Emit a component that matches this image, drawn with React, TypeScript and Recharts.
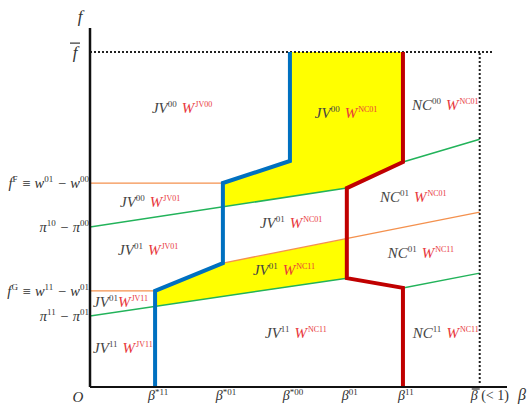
import React from 'react';
import { ComposedChart, Line, Area, Scatter, XAxis, YAxis } from 'recharts';

// Boundary lines in (beta, f) space, beta-bar = 1, f-bar = 1
const blueBoundary = [
  { b: 0.167, f: 0 }, { b: 0.167, f: 0.287 }, { b: 0.341, f: 0.370 },
  { b: 0.341, f: 0.609 }, { b: 0.513, f: 0.675 }, { b: 0.513, f: 1 },
];
const redBoundary = [
  { b: 0.803, f: 1 }, { b: 0.803, f: 0.672 }, { b: 0.659, f: 0.594 },
  { b: 0.659, f: 0.325 }, { b: 0.803, f: 0.296 }, { b: 0.803, f: 0 },
];
const greenUpper = [{ b: 0, f: 0.478 }, { b: 0.659, f: 0.594 }, { b: 0.803, f: 0.672 }, { b: 1, f: 0.740 }];
const greenLower = [{ b: 0, f: 0.212 }, { b: 0.659, f: 0.325 }, { b: 0.803, f: 0.296 }, { b: 1, f: 0.340 }];
const orangeFF = [{ b: 0, f: 0.609 }, { b: 0.341, f: 0.609 }];
const orangeMid = [{ b: 0.341, f: 0.370 }, { b: 1, f: 0.522 }];
const orangeFG = [{ b: 0, f: 0.287 }, { b: 0.167, f: 0.287 }];
const fBarLine = [{ b: 0, f: 1 }, { b: 1.033, f: 1 }];
const betaBarLine = [{ b: 1, f: 0.012 }, { b: 1, f: 1 }];

const yellowUpper = [
  { b: 0.341, range: [0.538, 0.609] },
  { b: 0.513, range: [0.568, 0.675] },
  { b: 0.513, range: [0.568, 1] },
  { b: 0.659, range: [0.594, 1] },
  { b: 0.803, range: [0.672, 1] },
];
const yellowLower = [
  { b: 0.167, range: [0.241, 0.287] },
  { b: 0.341, range: [0.270, 0.370] },
  { b: 0.659, range: [0.325, 0.443] },
];

// Region labels
const regionLabels = [
  { b: 0.159, f: 0.833, who: 'JV', whoSup: '00', wSup: 'JV00', tight: false },
  { b: 0.077, f: 0.552, who: 'JV', whoSup: '00', wSup: 'JV01', tight: false },
  { b: 0.072, f: 0.409, who: 'JV', whoSup: '01', wSup: 'JV01', tight: false },
  { b: 0.008, f: 0.254, who: 'JV', whoSup: '01', wSup: 'JV11', tight: true },
  { b: 0.008, f: 0.116, who: 'JV', whoSup: '11', wSup: 'JV11', tight: false },
  { b: 0.577, f: 0.818, who: 'JV', whoSup: '00', wSup: 'NC01', tight: false },
  { b: 0.826, f: 0.842, who: 'NC', whoSup: '00', wSup: 'NC01', tight: false },
  { b: 0.744, f: 0.567, who: 'NC', whoSup: '01', wSup: 'NC01', tight: false },
  { b: 0.436, f: 0.490, who: 'JV', whoSup: '01', wSup: 'NC01', tight: false },
  { b: 0.418, f: 0.349, who: 'JV', whoSup: '01', wSup: 'NC11', tight: false },
  { b: 0.764, f: 0.400, who: 'NC', whoSup: '01', wSup: 'NC11', tight: false },
  { b: 0.449, f: 0.161, who: 'JV', whoSup: '11', wSup: 'NC11', tight: false },
  { b: 0.828, f: 0.161, who: 'NC', whoSup: '11', wSup: 'NC11', tight: false },
];

// Axis ticks
const betaTicks = [0.167, 0.341, 0.513, 0.659, 0.803, 1];
const betaTickLabels: string[][][] = [
  [['β', '*11']],
  [['β', '*01']],
  [['β', '*00']],
  [['β', '01']],
  [['β', '11']],
  [['BETABAR', ''], [' (< 1)', '']],
];
const fTicks = [0, 0.212, 0.287, 0.478, 0.609, 1];
const fTickLabels: string[][][] = [
  [['O', '']],
  [['π', '11'], [' − π', '01']],
  [['f', 'G'], [' ≡ w', '11'], [' − w', '01']],
  [['π', '10'], [' − π', '00']],
  [['f', 'F'], [' ≡ w', '01'], [' − w', '00']],
  [['FBAR', '']],
];

const FONT = '"Liberation Serif", "DejaVu Serif", serif';
const BLUE = '#0070C0';
const RED = '#C00000';
const GREEN = '#22B35A';
const ORANGE = '#F4914E';
const YELLOW = '#FFFF00';
const LABEL_RED = '#E8383D';

function segTspans(segs: string[][], supSize: number, rise: number) {
  const out: any[] = [];
  let raised = false;
  segs.forEach((s, i) => {
    out.push(
      <tspan key={'n' + i} dy={raised ? rise : 0}>{s[0]}</tspan>
    );
    raised = false;
    if (s[1]) {
      out.push(
        <tspan key={'s' + i} fontSize={supSize} dy={-rise} fontStyle="normal">{s[1]}</tspan>
      );
      raised = true;
    }
  });
  return out;
}

const YTick = (props: any) => {
  const { x, y, payload } = props;
  const idx = fTicks.indexOf(payload.value);
  const segs = fTickLabels[idx];
  if (!segs) return null;
  if (segs[0][0] === 'FBAR') {
    return (
      <g>
        <text x={x - 15} y={y + 6} fontFamily={FONT} fontStyle="italic" fontSize={17} fill="#333" textAnchor="middle">f</text>
        <line x1={x - 20} x2={x - 10} y1={y - 9} y2={y - 9} stroke="#333" strokeWidth={1.2} />
      </g>
    );
  }
  if (segs[0][0] === 'O') {
    return (
      <text x={x - 12} y={y + 15} fontFamily={FONT} fontStyle="italic" fontSize={15} fill="#333" textAnchor="middle">O</text>
    );
  }
  return (
    <text x={x - 1} y={y + 5} fontFamily={FONT} fontStyle="italic" fontSize={14.5} fill="#333" textAnchor="end">
      {segTspans(segs, 9, 6)}
    </text>
  );
};

const XTick = (props: any) => {
  const { x, y, payload } = props;
  const idx = betaTicks.indexOf(payload.value);
  const segs = betaTickLabels[idx];
  if (!segs) return null;
  if (segs[0][0] === 'BETABAR') {
    return (
      <g>
        <text x={x - 9} y={y + 13} fontFamily={FONT} fontStyle="italic" fontSize={14} fill="#333">
          β<tspan fontStyle="normal"> (&lt; 1)</tspan>
        </text>
        <line x1={x - 8} x2={x} y1={y + 2} y2={y + 2} stroke="#333" strokeWidth={1.2} />
      </g>
    );
  }
  return (
    <text x={x + 3} y={y + 13} fontFamily={FONT} fontStyle="italic" fontSize={14} fill="#333" textAnchor="middle">
      {segTspans(segs, 9, 5)}
    </text>
  );
};

const RegionLabel = (props: any) => {
  const { cx, cy, payload } = props;
  if (cx == null || cy == null) return null;
  return (
    <text x={cx} y={cy + 5} fontFamily={FONT} fontStyle="italic" fontSize={15}>
      <tspan fill="#444">{payload.who}</tspan>
      <tspan fill="#444" fontSize={9} dy={-6} fontStyle="normal">{payload.whoSup}</tspan>
      <tspan fill={LABEL_RED} dy={6} dx={payload.tight ? 0 : 5}>W</tspan>
      <tspan fill={LABEL_RED} fontSize={8} dy={-6} dx={1} fontStyle="normal">{payload.wSup}</tspan>
    </text>
  );
};

const FLabel = (props: any) => {
  const vb = props.viewBox || {};
  return (
    <text x={vb.x + vb.width - 10} y={vb.y - 6} fontFamily={FONT} fontStyle="italic" fontSize={17} fill="#333" textAnchor="middle">f</text>
  );
};

const BetaLabel = (props: any) => {
  const vb = props.viewBox || {};
  return (
    <text x={vb.x + vb.width + 11} y={vb.y + 13} fontFamily={FONT} fontStyle="italic" fontSize={16} fill="#333">β</text>
  );
};

export default function App() {
  const lineCommon = { type: 'linear' as const, dataKey: 'f', dot: false, activeDot: false, isAnimationActive: false, legendType: 'none' as const };
  return (
    <div style={{ position: 'absolute', left: 0, top: 0, width: 531, height: 404, background: '#fff' }}>
      <ComposedChart width={531} height={404} margin={{ top: 28, right: 24, bottom: 0, left: 0 }}>
        <XAxis
          type="number"
          dataKey="b"
          domain={[0, 1.07]}
          allowDataOverflow
          ticks={betaTicks}
          interval={0}
          height={17}
          tickSize={0}
          tickMargin={0}
          tick={<XTick />}
          axisLine={{ stroke: '#111', strokeWidth: 2 }}
          tickLine={false}
          label={<BetaLabel />}
        />
        <YAxis
          type="number"
          domain={[0, 1.072]}
          allowDataOverflow
          ticks={fTicks}
          interval={0}
          width={90}
          tickSize={0}
          tickMargin={0}
          tick={<YTick />}
          axisLine={{ stroke: '#111', strokeWidth: 2.5 }}
          tickLine={false}
          label={<FLabel />}
        />
        <Area data={yellowUpper} dataKey="range" type="linear" stroke="none" fill={YELLOW} fillOpacity={1} isAnimationActive={false} dot={false} activeDot={false} />
        <Area data={yellowLower} dataKey="range" type="linear" stroke="none" fill={YELLOW} fillOpacity={1} isAnimationActive={false} dot={false} activeDot={false} />
        <Line {...lineCommon} data={greenUpper} stroke={GREEN} strokeWidth={1.5} />
        <Line {...lineCommon} data={greenLower} stroke={GREEN} strokeWidth={1.5} />
        <Line {...lineCommon} data={orangeFF} stroke={ORANGE} strokeWidth={1.3} />
        <Line {...lineCommon} data={orangeMid} stroke={ORANGE} strokeWidth={1.3} />
        <Line {...lineCommon} data={orangeFG} stroke={ORANGE} strokeWidth={1.3} />
        <Line {...lineCommon} data={fBarLine} stroke="#222" strokeWidth={2} strokeDasharray="2 2" />
        <Line {...lineCommon} data={betaBarLine} stroke="#222" strokeWidth={2} strokeDasharray="2 2" />
        <Line {...lineCommon} data={blueBoundary} stroke={BLUE} strokeWidth={4} />
        <Line {...lineCommon} data={redBoundary} stroke={RED} strokeWidth={4} />
        <Scatter data={regionLabels} dataKey="f" isAnimationActive={false} shape={<RegionLabel />} />
      </ComposedChart>
    </div>
  );
}
